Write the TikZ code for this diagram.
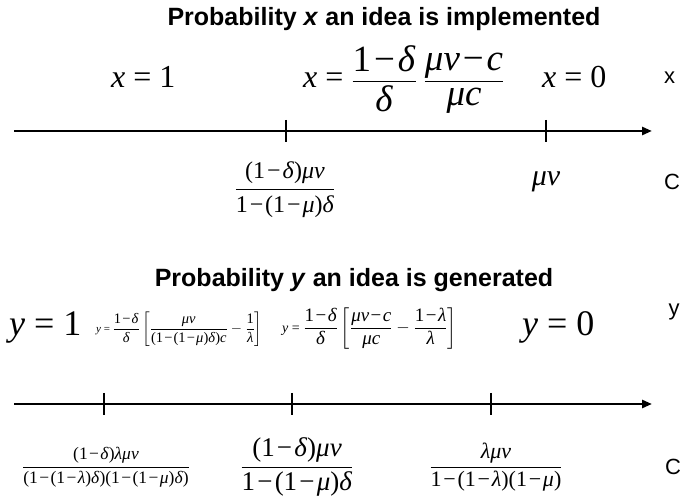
\documentclass[tikz,border=0pt]{standalone}
\usepackage{amsmath}
\usepackage{fontspec}
\setmainfont{Liberation Serif}
\newfontfamily\arialf{Liberation Sans}
\usetikzlibrary{arrows.meta}
\newcommand\I[1]{\textit{#1}}
\newcommand\mn{\hspace{0.08em}−\hspace{0.08em}}
\newcommand\fr[2]{\dfrac{\text{#1}}{\text{#2}}}
\newcommand\fs[1]{\fontsize{#1}{#1}\selectfont}
\begin{document}
\begin{tikzpicture}[x=1pt,y=-1pt,
  title/.style={font=\arialf\bfseries\fs{25}, inner sep=0pt},
  mathlbl/.style={inner sep=0pt},
  axislbl/.style={font=\arialf\fs{22}, inner sep=0pt},
  axisline/.style={line width=2.6pt, -{Triangle[length=10pt,width=8pt]}},
  tickmark/.style={line width=1.8pt}]
\useasboundingbox (0,0) rectangle (683,502);
% ---------- first block ----------
\node[title] (t1) at (384,19) {Probability \textit{x} an idea is implemented};
\node[mathlbl, font=\fs{32}, anchor=base west] (x1) at (111,88) {\I{x} = 1};
\node[mathlbl, font=\fs{32}, anchor=base west] (xm) at (303,88)
  {\I{x} = {\fs{37}$\fr{1\mn\I{δ}}{\I{δ}}\;\fr{\I{μv}\mn\I{c}}{\I{μc}}$}};
\node[mathlbl, font=\fs{32}, anchor=base west] (x0) at (542,88) {\I{x} = 0};
\node[axislbl, anchor=base west] (lx) at (664,84) {x};
\coordinate (a1s) at (14,131);
\coordinate (a1e) at (652,131);
\draw[axisline] (a1s) -- (a1e);
\coordinate (k11) at (286,131);
\coordinate (k12) at (546,131);
\draw[tickmark] ([yshift=11pt]k11) -- ([yshift=-11pt]k11);
\draw[tickmark] ([yshift=11pt]k12) -- ([yshift=-11pt]k12);
\node[mathlbl, font=\fs{24}] (c1a) at (285,190)
  {$\fr{(1\mn\I{δ})\I{μv}}{1\mn(1\mn\I{μ})\I{δ}}$};
\node[mathlbl, font=\fs{30}] (c1b) at (546,182) {\I{μv}};
\node[axislbl] (lc1) at (672,182) {C};
% ---------- second block ----------
\node[title] (t2) at (354,280) {Probability \textit{y} an idea is generated};
\node[mathlbl, font=\fs{36}, anchor=base west] (y1) at (9,336) {\I{y} = 1};
\node[mathlbl, font=\fs{14.5}, anchor=base west] (ya) at (96,333)
  {{\fs{11}\I{y} = }$\fr{1\mn\I{δ}}{\I{δ}}\left[\fr{\I{μv}}{(1\mn(1\mn\I{μ})\I{δ})\I{c}}-\fr{1}{\I{λ}}\right]$};
\node[mathlbl, font=\fs{19}, anchor=base west] (yb) at (282,333)
  {{\fs{14}\I{y} = }$\fr{1\mn\I{δ}}{\I{δ}}\left[\fr{\I{μv}\mn\I{c}}{\I{μc}}-\fr{1\mn\I{λ}}{\I{λ}}\right]$};
\node[mathlbl, font=\fs{36}, anchor=base west] (y0) at (522,336) {\I{y} = 0};
\node[axislbl] (ly) at (674,312) {y};
\coordinate (a2s) at (14,404);
\coordinate (a2e) at (652,404);
\draw[axisline] (a2s) -- (a2e);
\coordinate (k21) at (104,404);
\coordinate (k22) at (292,404);
\coordinate (k23) at (491,404);
\draw[tickmark] ([yshift=11pt]k21) -- ([yshift=-11pt]k21);
\draw[tickmark] ([yshift=11pt]k22) -- ([yshift=-11pt]k22);
\draw[tickmark] ([yshift=11pt]k23) -- ([yshift=-11pt]k23);
\node[mathlbl, font=\fs{17.5}] (c2a) at (106,467)
  {$\fr{(1\mn\I{δ})\I{λμv}}{(1\mn(1\mn\I{λ})\I{δ})(1\mn(1\mn\I{μ})\I{δ})}$};
\node[mathlbl, font=\fs{27}] (c2b) at (297,467)
  {$\fr{(1\mn\I{δ})\I{μv}}{1\mn(1\mn\I{μ})\I{δ}}$};
\node[mathlbl, font=\fs{22}] (c2c) at (496,467)
  {$\fr{\I{λμv}}{1\mn(1\mn\I{λ})(1\mn\I{μ})}$};
\node[axislbl] (lc2) at (673,467) {C};
\end{tikzpicture}
\end{document}
